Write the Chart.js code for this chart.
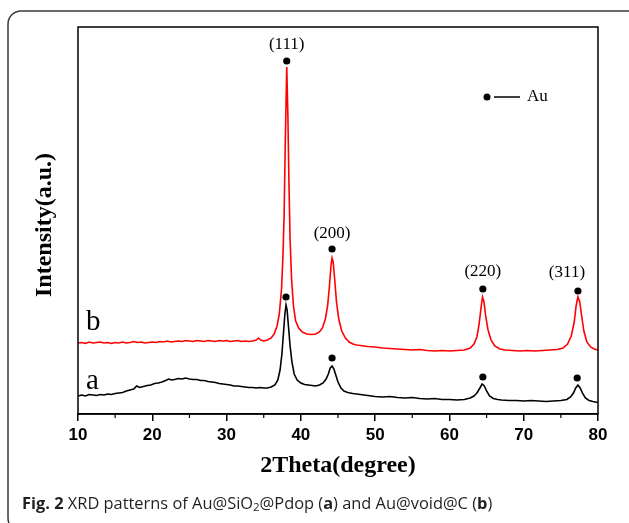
<!DOCTYPE html>
<html>
<head>
<meta charset="utf-8">
<script src="https://cdn.jsdelivr.net/npm/chart.js@4.4.1/dist/chart.umd.min.js"></script>
<style>
  body { margin: 0; background: #fff; }
  canvas { display: block; }
</style>
</head>
<body>
<canvas id="xrd" width="629" height="523"></canvas>
<script>
// pattern a: Au@SiO2@Pdop (black)
var anglesA = [10, 10.5, 11, 11.5, 12, 12.5, 13, 13.5, 14, 14.5, 15, 15.5, 16, 16.5, 17, 17.5, 17.9, 18.3, 18.8, 19.3,
  19.8, 20.3, 20.8, 21.3, 21.8, 22.2, 22.6, 23, 23.5, 24, 24.5, 25, 25.5, 26, 26.5, 27, 27.5, 28, 28.5, 29,
  29.5, 30, 30.5, 31, 31.5, 32, 32.5, 33, 33.5, 34, 34.5, 35, 35.5, 36, 36.5, 36.9, 37.2, 37.45, 37.65, 37.85,
  38.0, 38.15, 38.35, 38.55, 38.8, 39.1, 39.5, 40, 40.5, 41, 41.5, 42, 42.5, 43, 43.4, 43.7, 43.95, 44.2, 44.45, 44.7,
  45, 45.4, 45.8, 46.3, 47, 47.5, 48, 48.5, 49, 49.5, 50, 51, 52, 53, 54, 55, 56, 57, 58, 59,
  60, 61, 62, 62.8, 63.3, 63.7, 64.1, 64.4, 64.7, 65, 65.4, 65.9, 66.5, 67, 68, 69, 70, 71, 72, 73,
  74, 75, 75.8, 76.3, 76.7, 77.0, 77.3, 77.6, 77.9, 78.3, 78.8, 79.3, 80];
var intensityA = [18, 19, 18, 19.5, 19, 18.5, 19.5, 19, 20, 19.5, 20.5, 21, 21.5, 23, 24, 25, 28, 26.5, 27.5, 28.5,
  29, 30.5, 31, 32, 33.5, 35, 34, 34.5, 35.5, 35, 36, 35, 34.5, 34.5, 33.5, 33.5, 32.5, 32, 31.5, 30.5,
  30, 29.5, 29, 28, 28, 27.5, 27, 26.5, 26.5, 26, 26.5, 26, 26, 27, 29, 34, 44, 60, 80, 100,
  109, 104, 86, 68, 52, 40, 34, 31, 29.5, 29, 28.5, 28, 29, 31, 35, 40, 46, 48, 45, 39,
  32, 26, 23, 21.5, 20.5, 20, 19.5, 19, 18.5, 18, 17.5, 17, 17.5, 16.5, 16, 16.5, 15.5, 15, 15.5, 14.5,
  14.5, 14, 14.5, 16, 18, 21, 26, 30, 28, 23, 18, 15.5, 14.5, 14, 13.5, 13.5, 13, 13.5, 13, 12.5,
  13, 13.5, 14.5, 17, 21, 26, 29, 26, 21, 16, 13.5, 12.5, 11.5];

// pattern b: Au@void@C (red)
var anglesB = [10, 10.5, 11, 11.5, 12, 12.5, 13, 13.5, 14, 14.5, 15, 15.5, 16, 16.5, 17, 17.5, 18, 18.5, 19, 19.5,
  20, 20.5, 21, 21.5, 22, 22.5, 23, 23.5, 24, 24.5, 25, 25.5, 26, 26.5, 27, 27.5, 28, 28.5, 29, 29.5,
  30, 30.5, 31, 31.5, 32, 32.5, 33, 33.5, 34, 34.3, 34.6, 35, 35.5, 36, 36.4, 36.8, 37.1, 37.4, 37.6, 37.75,
  37.9, 38.1, 38.25, 38.4, 38.55, 38.75, 39.0, 39.3, 39.7, 40.2, 40.8, 41.4, 42, 42.5, 42.9, 43.3, 43.6, 43.85, 44.05, 44.2,
  44.35, 44.55, 44.8, 45.1, 45.5, 46, 46.5, 47, 47.5, 48, 49, 50, 51, 52, 53, 54, 55, 56, 57, 58,
  59, 60, 61, 62, 62.8, 63.3, 63.7, 64.0, 64.25, 64.45, 64.65, 64.9, 65.2, 65.6, 66.1, 66.8, 67.5, 68.5, 69.5, 70.5,
  71.5, 72.5, 73.5, 74.5, 75.3, 75.9, 76.4, 76.8, 77.05, 77.3, 77.55, 77.8, 78.1, 78.5, 79, 79.5, 80];
var intensityB = [71, 71.5, 70.5, 72, 71, 71.5, 72, 71, 71.5, 70.5, 71.5, 71, 72, 71, 71.5, 72.5, 71.5, 72, 71, 71.5,
  72, 71.5, 72.5, 72, 73, 72, 72.5, 73, 72.5, 73.5, 73, 72.5, 73.5, 73, 72.5, 73.5, 73, 72.5, 73.5, 73,
  73.5, 72.5, 73, 73.5, 72.5, 73, 72.5, 73, 74, 76, 74, 73, 74, 76, 80, 88, 100, 125, 160, 200,
  270, 347, 300, 230, 175, 135, 108, 93, 86, 82, 80, 79.5, 80, 82, 86, 95, 108, 128, 148, 156,
  152, 135, 112, 95, 83, 76, 72, 70, 69, 68.5, 67.5, 67, 66, 65.5, 65, 64.5, 64, 64.5, 63.5, 63,
  63.5, 63, 63.5, 64, 66, 70, 77, 90, 106, 117, 112, 97, 84, 74, 68, 65, 64, 63.5, 63, 63.5,
  63, 63.5, 64, 64.5, 66, 70, 78, 92, 108, 117, 112, 98, 83, 72, 67, 65, 64];

// Au reflections: marker positions and Miller indices
var peakLabels = ["(111)", "(200)", "(220)", "(311)"];
var markerAnglesB = [38.1, 44.2, 64.5, 77.3];
var markerIntensityB = [353, 165, 125, 123];
var markerAnglesA = [38.0, 44.2, 64.5, 77.2];
var markerIntensityA = [117, 56, 37, 36];

var xTicks = [10, 20, 30, 40, 50, 60, 70, 80];

function toPoints(xs, ys) {
  return xs.map(function(x, i) { return { x: x, y: ys[i] }; });
}

var serif = "'Liberation Serif', 'DejaVu Serif', serif";

// draws frame, titles, legend, labels and the figure caption
var decorations = {
  id: "decorations",
  afterDraw: function(chart) {
    var ctx = chart.ctx;
    var area = chart.chartArea;
    var xs = chart.scales.x;
    var ys = chart.scales.y;
    ctx.save();

    // outer rounded figure border
    ctx.strokeStyle = "#3a3a3a";
    ctx.lineWidth = 1.5;
    ctx.beginPath();
    ctx.roundRect(8, 11, 640, 520, 13);
    ctx.stroke();

    // plot frame
    ctx.strokeStyle = "#000";
    ctx.lineWidth = 1.5;
    ctx.strokeRect(area.left, area.top, area.right - area.left, area.bottom - area.top);

    // minor ticks
    ctx.lineWidth = 1.2;
    for (var m = 15; m < 80; m += 10) {
      var px = xs.getPixelForValue(m);
      ctx.beginPath();
      ctx.moveTo(px, area.bottom);
      ctx.lineTo(px, area.bottom + 4);
      ctx.stroke();
    }

    // peak labels above the red markers
    var dx = [0, 0, 0, -11];
    var dy = [-16, -15, -17, -18];
    ctx.fillStyle = "#000";
    ctx.font = "17px " + serif;
    ctx.textAlign = "center";
    ctx.textBaseline = "middle";
    peakLabels.forEach(function(lbl, i) {
      var px = xs.getPixelForValue(markerAnglesB[i]);
      var py = ys.getPixelForValue(markerIntensityB[i]);
      ctx.fillText(lbl, px + dx[i], py + dy[i]);
    });

    // curve labels
    ctx.font = "29px " + serif;
    ctx.textAlign = "left";
    ctx.fillText("b", 86, 322);
    ctx.fillText("a", 86, 381);

    // legend
    ctx.beginPath();
    ctx.arc(487, 97, 3.5, 0, Math.PI * 2);
    ctx.fill();
    ctx.lineWidth = 1.5;
    ctx.beginPath();
    ctx.moveTo(494, 97);
    ctx.lineTo(520, 97);
    ctx.stroke();
    ctx.font = "17px " + serif;
    ctx.fillText("Au", 527, 97);

    // axis titles
    ctx.font = "bold 24px " + serif;
    ctx.textAlign = "center";
    ctx.fillText("2Theta(degree)", (area.left + area.right) / 2, 466);
    ctx.save();
    ctx.translate(45, 225);
    ctx.rotate(-Math.PI / 2);
    ctx.fillText("Intensity(a.u.)", 0, 0);
    ctx.restore();

    // caption
    ctx.textAlign = "left";
    ctx.fillStyle = "#231f20";
    var cy = 504;
    var cx = 22;
    var parts = [
      ["bold", "Fig. 2", 0],
      ["normal", " XRD patterns of Au@SiO", 0],
      ["normal", "2", 1],
      ["normal", "@Pdop (", 0],
      ["bold", "a", 0],
      ["normal", ") and Au@void@C (", 0],
      ["bold", "b", 0],
      ["normal", ")", 0]
    ];
    parts.forEach(function(p) {
      var size = p[2] ? 11.5 : 16.4;
      ctx.font = p[0] + " " + size + "px 'Open Sans', 'Noto Sans', sans-serif";
      ctx.fillText(p[1], cx, cy + (p[2] ? 4 : 0));
      cx += ctx.measureText(p[1]).width;
    });

    ctx.restore();
  }
};

var markerStyle = {
  type: "scatter",
  showLine: false,
  pointRadius: 3.6,
  pointHoverRadius: 3.6,
  pointBackgroundColor: "#000",
  pointBorderWidth: 0
};

new Chart(document.getElementById("xrd"), {
  type: "line",
  data: {
    datasets: [
      {
        label: "b",
        data: toPoints(anglesB, intensityB),
        borderColor: "#ff0000",
        borderWidth: 1.6,
        pointRadius: 0,
        tension: 0
      },
      {
        label: "a",
        data: toPoints(anglesA, intensityA),
        borderColor: "#000000",
        borderWidth: 1.6,
        pointRadius: 0,
        tension: 0
      },
      Object.assign({ label: "Au b", data: toPoints(markerAnglesB, markerIntensityB) }, markerStyle),
      Object.assign({ label: "Au a", data: toPoints(markerAnglesA, markerIntensityA) }, markerStyle)
    ]
  },
  options: {
    responsive: false,
    animation: false,
    devicePixelRatio: 1,
    layout: { padding: { left: 78, right: 31, top: 27, bottom: 0 } },
    plugins: {
      legend: { display: false },
      tooltip: { enabled: false }
    },
    scales: {
      x: {
        type: "linear",
        min: 10,
        max: 80,
        afterBuildTicks: function(scale) {
          scale.ticks = xTicks.map(function(v) { return { value: v }; });
        },
        afterFit: function(scale) { scale.height = 109; },
        ticks: {
          color: "#000",
          padding: 4,
          maxRotation: 0,
          font: { family: "'Liberation Sans', Arial, sans-serif", size: 17, weight: "bold" }
        },
        grid: {
          drawOnChartArea: false,
          color: "#000",
          lineWidth: 1.5,
          tickLength: 7
        },
        border: { color: "#000", width: 1.5 }
      },
      y: {
        display: false,
        min: 0,
        max: 387
      }
    }
  },
  plugins: [decorations]
});
</script>
</body>
</html>
